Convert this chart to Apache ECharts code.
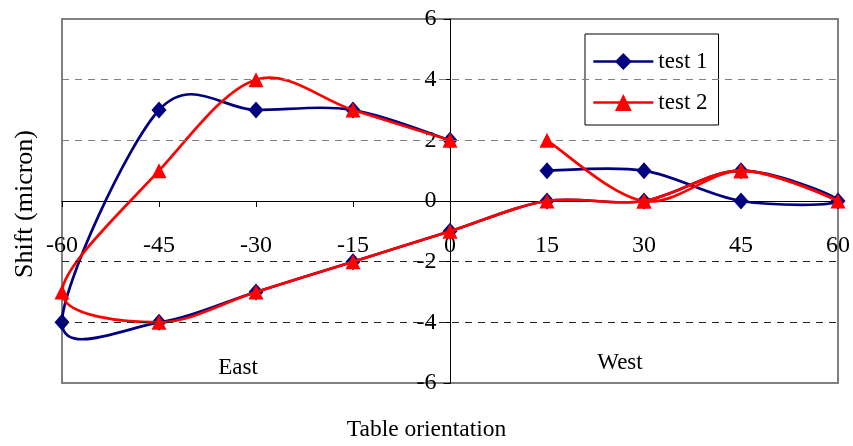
<!DOCTYPE html>
<html>
<head>
<meta charset="utf-8">
<script src="https://cdn.jsdelivr.net/npm/echarts@6/dist/echarts.min.js"></script>
<style>
html,body{margin:0;padding:0;background:#fff;}
#chart{width:853px;height:446px;}
</style>
</head>
<body>
<div id="chart"></div>
<script>
var orientation = [15, 30, 45, 60, 45, 30, 15, 0, -15, -30, -45, -60, -45, -30, -15, 0];
var test1 = [1, 1, 0, 0, 1, 0, 0, -1, -2, -3, -4, -4, 3, 3, 3, 2];
var test2 = [2, 0, 1, 0, 1, 0, 0, -1, -2, -3, -4, -3, 1, 4, 3, 2];
var seriesNames = ['test 1', 'test 2'];
var seriesColors = ['#000080', '#ff0000'];
var xTicks = {min: -60, max: 60, interval: 15};
var yTicks = {min: -6, max: 6, interval: 2};
var gridValues = [4, 2, -2, -4];
var sideLabels = ['East', 'West'];
var xTitle = 'Table orientation';
var yTitle = 'Shift (micron)';

function pairs(xs, ys) {
  return xs.map(function (x, i) { return [x, ys[i]]; });
}

// Smoothed curve (Catmull-Rom style Bezier, as spreadsheet smoothing does),
// positioned through the chart's own axes via api.coord.
function curveRenderer(xs, ys, color) {
  return function (params, api) {
    if (params.dataIndex !== 0) return null;
    var pts = xs.map(function (x, i) { return api.coord([x, ys[i]]); });
    var children = [];
    for (var i = 0; i < pts.length - 1; i++) {
      var p0 = pts[i - 1] || pts[i];
      var p1 = pts[i];
      var p2 = pts[i + 1];
      var p3 = pts[i + 2] || pts[i + 1];
      children.push({
        type: 'bezierCurve',
        shape: {
          x1: p1[0], y1: p1[1], x2: p2[0], y2: p2[1],
          cpx1: p1[0] + (p2[0] - p0[0]) / 6, cpy1: p1[1] + (p2[1] - p0[1]) / 6,
          cpx2: p2[0] - (p3[0] - p1[0]) / 6, cpy2: p2[1] - (p3[1] - p1[1]) / 6
        },
        style: {stroke: color, lineWidth: 2.7, fill: 'none', lineCap: 'round', lineJoin: 'round'}
      });
    }
    return {type: 'group', children: children};
  };
}

var FONT = 'Liberation Serif';
var GRID = {left: 62, right: 14, top: 19, bottom: 63};
var W = 853, H = 446;
var plotW = W - GRID.left - GRID.right;
var plotH = H - GRID.top - GRID.bottom;
// place the axes on the zero lines (labels follow them)
var xAxisOffset = -plotH * (0 - yTicks.min) / (yTicks.max - yTicks.min);
var yAxisOffset = -plotW * (0 - xTicks.min) / (xTicks.max - xTicks.min);

var chart = echarts.init(document.getElementById('chart'));

var option = {
  backgroundColor: '#fff',
  animation: false,
  grid: {
    left: GRID.left, right: GRID.right, top: GRID.top, bottom: GRID.bottom,
    show: true, borderColor: '#808080', borderWidth: 2, backgroundColor: 'transparent'
  },
  legend: {
    data: seriesNames.map(function (n, i) {
      return {name: n, lineStyle: {color: seriesColors[i], width: 2.7, opacity: 1}};
    }),
    orient: 'vertical',
    left: 585, top: 34,
    padding: [16, 11, 11, 7],
    itemWidth: 60, itemHeight: 21, itemGap: 18,
    borderColor: '#000', borderWidth: 1,
    backgroundColor: '#fff',
    textStyle: {fontFamily: FONT, fontSize: 23, color: '#000'}
  },
  xAxis: {
    type: 'value', position: 'bottom', offset: xAxisOffset,
    min: xTicks.min, max: xTicks.max, interval: xTicks.interval,
    axisLine: {onZero: false, lineStyle: {color: '#000', width: 1}},
    axisTick: {show: true, inside: false, length: 6, lineStyle: {color: '#000'}},
    axisLabel: {margin: 33, fontFamily: FONT, fontSize: 24, color: '#000'},
    splitLine: {show: false}
  },
  yAxis: {
    type: 'value', position: 'left', offset: yAxisOffset,
    min: yTicks.min, max: yTicks.max, interval: yTicks.interval,
    axisLine: {show: true, onZero: false, lineStyle: {color: '#000', width: 1}},
    axisTick: {show: true, inside: false, length: 7, lineStyle: {color: '#000'}},
    axisLabel: {margin: 14, fontFamily: FONT, fontSize: 24, color: '#000'},
    splitLine: {show: false}
  },
  graphic: [
    {type: 'text', left: 'center', top: 418, style: {text: xTitle, font: '23.5px "' + FONT + '"', fill: '#000'}},
    {type: 'text', x: 25, y: 204, rotation: Math.PI / 2, style: {text: yTitle, font: '26px "' + FONT + '"', fill: '#000', align: 'center', verticalAlign: 'middle'}},
    {type: 'text', x: 238, y: 368, style: {text: sideLabels[0], font: '23px "' + FONT + '"', fill: '#000', align: 'center', verticalAlign: 'middle'}},
    {type: 'text', x: 620, y: 363, style: {text: sideLabels[1], font: '23px "' + FONT + '"', fill: '#000', align: 'center', verticalAlign: 'middle'}}
  ],
  series: [
    {
      name: 'gridlines', type: 'line', data: [], z: 1, silent: true,
      markLine: {
        silent: true, symbol: 'none', label: {show: false}, animation: false,
        data: gridValues.map(function (v) {
          return {yAxis: v, lineStyle: {color: v > 0 ? '#808080' : '#222', width: 1, type: [7, 6]}};
        })
      }
    },
    {
      name: 'test 1 curve', type: 'custom', data: pairs(orientation, test1),
      encode: {x: 0, y: 1}, z: 2, silent: true,
      renderItem: curveRenderer(orientation, test1, seriesColors[0])
    },
    {
      name: seriesNames[0], type: 'line', data: pairs(orientation, test1),
      z: 3,
      lineStyle: {color: seriesColors[0], width: 2.7, opacity: 0},
      itemStyle: {color: seriesColors[0]},
      symbol: 'diamond', symbolSize: [15, 17], showAllSymbol: true
    },
    {
      name: 'test 2 curve', type: 'custom', data: pairs(orientation, test2),
      encode: {x: 0, y: 1}, z: 4, silent: true,
      renderItem: curveRenderer(orientation, test2, seriesColors[1])
    },
    {
      name: seriesNames[1], type: 'line', data: pairs(orientation, test2),
      z: 5,
      lineStyle: {color: seriesColors[1], width: 2.7, opacity: 0},
      itemStyle: {color: seriesColors[1]},
      symbol: 'triangle', symbolSize: [15, 15], showAllSymbol: true
    }
  ]
};
chart.setOption(option);
</script>
</body>
</html>
